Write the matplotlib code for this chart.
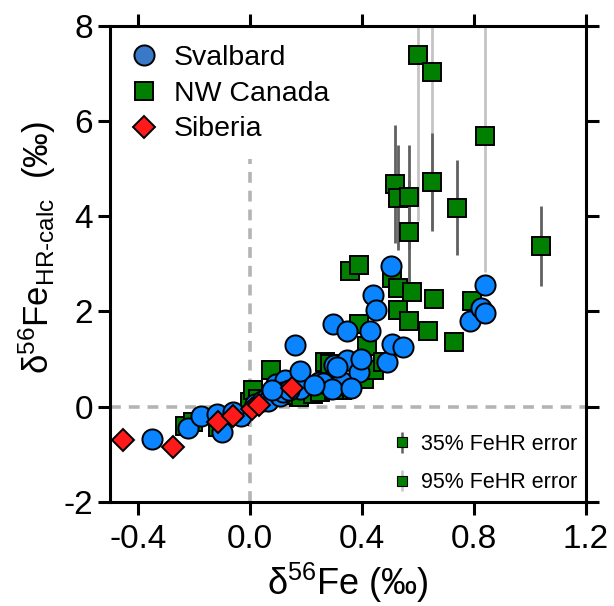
import numpy as np
import matplotlib
matplotlib.use("Agg")
import matplotlib.pyplot as plt
from matplotlib.lines import Line2D

plt.rcParams['font.family'] = ['Liberation Sans', 'DejaVu Sans']
plt.rcParams['mathtext.fontset'] = 'custom'
plt.rcParams['mathtext.rm'] = 'Liberation Sans'
plt.rcParams['mathtext.it'] = 'Liberation Sans'

# Svalbard
sv_x = [-0.351, -0.22, -0.173, -0.119, -0.101, -0.03, 0.02, 0.045, 0.066, 0.093, 0.107,
        0.124, 0.178, 0.16, 0.18, 0.248, 0.262, 0.298, 0.30, 0.33, 0.348, 0.348, 0.295,
        0.39, 0.396, 0.429, 0.44, 0.449, 0.489, 0.506, 0.507, 0.548, 0.788, 0.827, 0.839, 0.839,
        0.12, 0.14, 0.08, -0.06, 0.23, 0.36, 0.31]
sv_y = [-0.68, -0.44, -0.19, -0.16, -0.53, -0.19, 0.05, 0.12, 0.12, 0.48, 0.23,
        0.56, 0.38, 1.29, 0.74, 0.52, 0.49, 1.73, 0.87, 0.52, 1.59, 0.97, 0.38,
        0.73, 1.00, 1.60, 2.34, 2.04, 0.93, 2.95, 1.31, 1.25, 1.80, 2.08, 1.97, 2.55,
        0.30, 0.35, 0.35, -0.12, 0.45, 0.40, 0.83]

# NW Canada, no error bars
ca_x = [-0.232, -0.202, -0.113, -0.04, 0.0, 0.012, 0.03, 0.077, 0.175, 0.225, 0.25, 0.27,
        0.286, 0.30, 0.33, 0.357, 0.389, 0.389, 0.407, 0.443, 0.418, 0.476, 0.508, 0.53,
        0.53, 0.568, 0.58, 0.637, 0.657, 0.729, 0.792, 0.30, 0.12]
ca_y = [-0.40, -0.33, -0.43, -0.20, 0.10, 0.35, 0.15, 0.76, 0.21, 0.27, 0.30, 0.93,
        0.89, 0.50, 0.35, 2.85, 2.97, 1.73, 0.59, 0.76, 1.28, 0.93, 2.71, 2.50,
        2.04, 1.81, 2.41, 1.59, 2.27, 1.35, 2.22, 0.35, 0.25]

# NW Canada, 35% FeHR error
e35_x = [0.519, 0.530, 0.569, 0.649, 0.569, 0.739, 1.039]
e35_y = [4.68, 4.39, 4.41, 4.73, 3.68, 4.18, 3.37]
e35_err = [1.25, 1.10, 1.10, 1.03, 1.08, 1.00, 0.84]

# NW Canada, 95% FeHR error
e95_x = [0.599, 0.649, 0.839]
e95_y = [7.40, 7.03, 5.69]
e95_err = [3.50, 3.30, 2.86]

# Siberia
si_x = [-0.455, -0.274, -0.113, -0.062, 0.006, 0.033, 0.149]
si_y = [-0.70, -0.84, -0.33, -0.19, -0.05, 0.03, 0.40]

blue = '#0a84ff'
green = '#007f00'
red = '#ff1a1a'

fig = plt.figure(figsize=(6.14, 6.06), dpi=100)
ax = fig.add_axes([0.179, 0.172, 0.775, 0.785])

ax.axhline(0, color='#b4b4b4', lw=2.6, ls=(0, (3, 2.2)), zorder=1)
ax.plot([0, 0], [-2, 5.2], color='#b4b4b4', lw=2.6, ls=(0, (3, 2.2)), zorder=1)

ax.errorbar(e95_x, e95_y, yerr=e95_err, fmt='none', ecolor='#c4c4c4', elinewidth=2, zorder=2)
ax.errorbar(e35_x, e35_y, yerr=e35_err, fmt='none', ecolor='#606060', elinewidth=2, zorder=2)

mk = dict(mec='black', mew=1.4, ls='none')
ax.plot(ca_x + e35_x + e95_x, ca_y + e35_y + e95_y, 's', ms=13.5, mfc=green, zorder=3, **mk)
ax.plot(sv_x, sv_y, 'o', ms=14.5, mfc=blue, zorder=4, **mk)
ax.plot(si_x, si_y, 'D', ms=11, mfc=red, zorder=5, **mk)

ax.set_xlim(-0.5, 1.2)
ax.set_ylim(-2, 8)
ax.set_xticks([-0.4, 0.0, 0.4, 0.8, 1.2])
ax.set_xticklabels(['-0.4', '0.0', '0.4', '0.8', '1.2'])
ax.set_yticks([-2, 0, 2, 4, 6, 8])
ax.set_yticklabels(['-2', '0', '2', '4', '6', '8'])
ax.tick_params(axis='both', which='both', direction='out', length=9, width=2.2,
               labelsize=24, top=True, right=True)
ax.tick_params(axis='x', pad=7)
ax.tick_params(axis='y', pad=3)
for s in ax.spines.values():
    s.set_linewidth(2.2)

ax.set_xlabel(r'δ$^{56}$Fe (‰)', fontsize=26, labelpad=4)
ax.set_ylabel(r'δ$^{56}$Fe$_{\mathrm{HR\text{-}calc}}$  (‰)', fontsize=25)
ax.yaxis.set_label_coords(-0.11, 0.535)

h1 = [Line2D([], [], marker='o', ms=14.5, mfc='#3a78c8', **mk),
      Line2D([], [], marker='s', ms=13.5, mfc=green, **mk),
      Line2D([], [], marker='D', ms=11, mfc=red, **mk)]
leg1 = ax.legend(h1, ['Svalbard', 'NW Canada', 'Siberia'], loc='upper left', frameon=False,
                 fontsize=20.5, handletextpad=0.5, labelspacing=0.35, borderaxespad=0.25,
                 handlelength=1.1)
ax.add_artist(leg1)

p35 = ax.errorbar([np.nan], [np.nan], yerr=[np.nan], fmt='s', ms=7, mfc=green, mec='black',
                  mew=0.8, ecolor='#606060', elinewidth=1.8)
p95 = ax.errorbar([np.nan], [np.nan], yerr=[np.nan], fmt='s', ms=7, mfc=green, mec='black',
                  mew=0.8, ecolor='#c4c4c4', elinewidth=1.8)
ax.legend([p35, p95], ['35% FeHR error', '95% FeHR error'], loc='lower right', frameon=False,
          fontsize=15.5, handletextpad=0.4, handlelength=1.0, borderaxespad=0.0,
          labelspacing=0.8)

fig.savefig('out.png', dpi=100)
